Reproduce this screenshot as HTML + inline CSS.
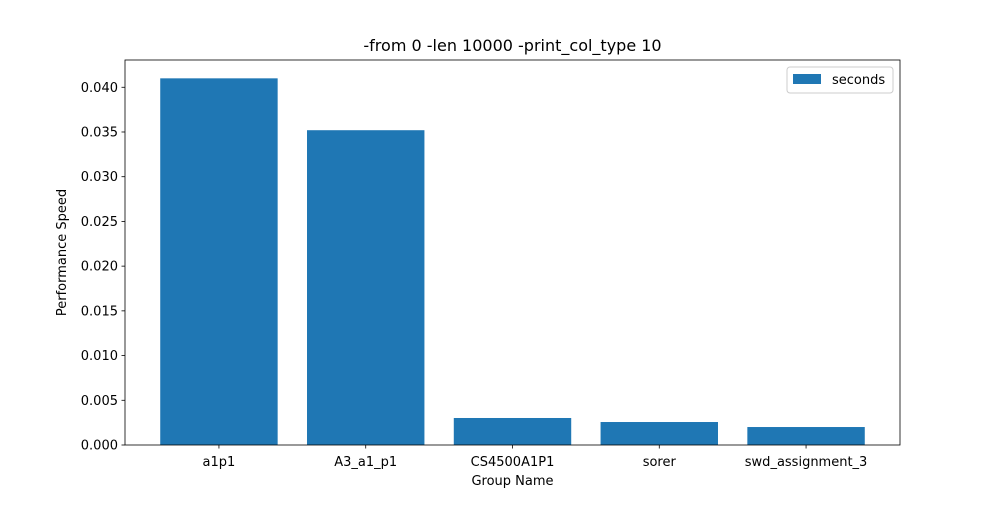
<!DOCTYPE html>
<html><head><meta charset="utf-8"><style>
body{margin:0;background:#fff;}
svg text{font-family:"DejaVu Sans","Liberation Sans",sans-serif;}
</style></head><body>
<svg width="1000" height="500" xmlns="http://www.w3.org/2000/svg">
<rect width="1000" height="500" fill="#fff"/>
<g id="plot"></g>
</svg>
<script>
const categories=["a1p1","A3_a1_p1","CS4500A1P1","sorer","swd_assignment_3"];
const seconds=[0.0410,0.0352,0.00302,0.00257,0.00201];
const yTicks=[0,0.005,0.01,0.015,0.02,0.025,0.03,0.035,0.04];
const yTickLabels=["0.000","0.005","0.010","0.015","0.020","0.025","0.030","0.035","0.040"];
const L=125,R=900,T=60,B=445;
const ymax=Math.max(...seconds)*1.05;
const n=categories.length;
const xmin=-0.4-0.05*(n-1+0.8), xmax=n-1+0.4+0.05*(n-1+0.8);
const X=v=>L+(v-xmin)/(xmax-xmin)*(R-L);
const Y=v=>B-v/ymax*(B-T);
const NS="http://www.w3.org/2000/svg";
const g=document.getElementById('plot');
function mk(t,a,txt){const e=document.createElementNS(NS,t);for(const k in a)e.setAttribute(k,a[k]);if(txt!==undefined)e.textContent=txt;g.appendChild(e);return e;}
seconds.forEach((v,i)=>{
 const r=mk('rect',{x:X(i-0.4),y:Y(v),width:X(i+0.4)-X(i-0.4),height:Y(0)-Y(v),fill:'#1f77b4'});
 
 
 mk('line',{x1:X(i),x2:X(i),y1:B,y2:B+3.5,stroke:'#000','stroke-width':0.8});
 const t=mk('text',{x:X(i),y:B+21,'text-anchor':'middle','font-size':'13px'},categories[i]);
 
 
});
yTicks.forEach((v,i)=>{
 mk('line',{x1:L-3.5,x2:L,y1:Y(v),y2:Y(v),stroke:'#000','stroke-width':0.8});
 const t=mk('text',{x:L-7,y:Y(v)+4.5,'text-anchor':'end','font-size':'13px'},yTickLabels[i]);
 
 
});
const fr=mk('rect',{x:L,y:T,width:R-L,height:B-T,fill:'none',stroke:'#000','stroke-width':0.8});


const ti=mk('text',{x:(L+R)/2,y:51,'text-anchor':'middle','font-size':'16px'},'-from 0 -len 10000 -print_col_type 10');


const xt=mk('text',{x:(L+R)/2,y:485,'text-anchor':'middle','font-size':'13px'},'Group Name');


const yt=mk('text',{x:0,y:0,'text-anchor':'middle','font-size':'13px',transform:'translate(66,'+((T+B)/2)+') rotate(-90)'},'Performance Speed');


const lg=mk('rect',{x:787,y:67,width:106,height:26,rx:3,fill:'#fff',stroke:'#ccc','stroke-width':1});


mk('rect',{x:793,y:74,width:28,height:10,fill:'#1f77b4'});
const le=mk('text',{x:832,y:84,'font-size':'13px'},'seconds');


</script>
</body></html>
